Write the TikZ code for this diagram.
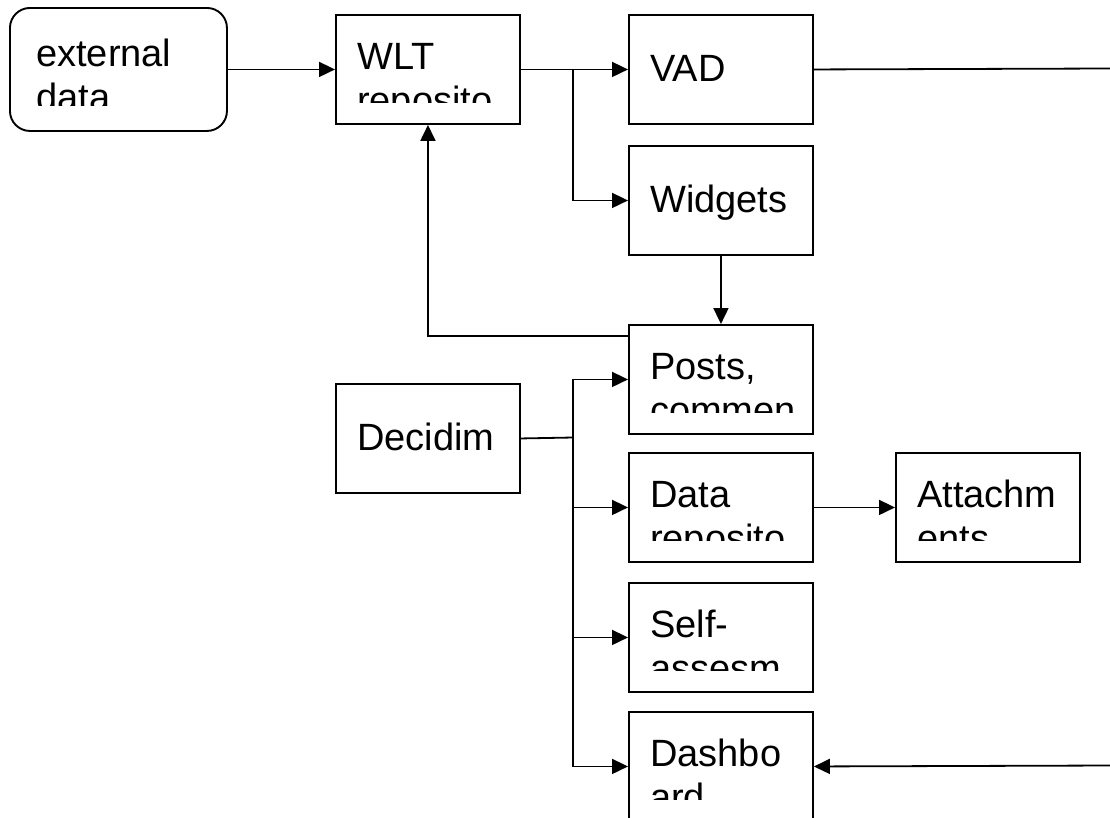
\documentclass[tikz,border=0pt]{standalone}
\usepackage{fontspec}
\setmainfont{Liberation Sans}
\usetikzlibrary{arrows.meta,calc}
\tikzset{
  box/.style={draw=black, line width=1.9pt, rectangle, minimum width=184pt, minimum height=109pt, inner sep=0pt, anchor=north west},
  rbox/.style={draw=black, line width=1.9pt, rectangle, rounded corners=20pt, minimum width=217pt, minimum height=123pt, inner sep=0pt, anchor=north west},
  txt/.style={inner sep=0pt, anchor=base west, font=\fontsize{38}{43.6}\selectfont},
  conn/.style={draw=black, line width=1.8pt},
  arr/.style={conn, -{Triangle[length=16pt,width=15pt]}}
}
\newcommand{\twoline}[3]{%
  \begin{scope}
    \clip (#1.north west) rectangle ($(#1.north west)+(184,88.5)$);
    \node[txt] (#1-a) at ($(#1.north west)+(22,55.5)$) {#2};
    \node[txt] (#1-b) at ($(#1.north west)+(22,99)$) {#3};
  \end{scope}}
\newcommand{\oneline}[2]{%
  \node[txt] (#1-a) at ($(#1.north west)+(22,67.5)$) {#2};}
\begin{document}
\begin{tikzpicture}[x=1pt,y=-1pt]
\useasboundingbox (0,0) rectangle (1110,817);
% boxes
\node[rbox] (ext) at (9,7) {};
\node[box] (wlt) at (335,14) {};
\node[box] (vad) at (628,14) {};
\node[box] (wid) at (628,145) {};
\node[box] (posts) at (628,324) {};
\node[box] (dec) at (335,383) {};
\node[box] (data) at (628,452) {};
\node[box] (att) at (895,452) {};
\node[box] (self) at (628,582) {};
\node[box] (dash) at (628,711) {};
% texts
\begin{scope}
  \clip (9,7) rectangle (226,105);
  \node[txt] (ext-a) at (36,66.5) {external};
  \node[txt] (ext-b) at (36,110) {data};
\end{scope}
\twoline{wlt}{WLT}{reposito}
\oneline{vad}{VAD}
\oneline{wid}{Widgets}
\twoline{posts}{Posts,}{commen}
\oneline{dec}{Decidim}
\twoline{data}{Data}{reposito}
\twoline{att}{Attachm}{ents}
\twoline{self}{Self-}{assesm}
\twoline{dash}{Dashbo}{ard}
% connectors
\coordinate (vadout) at (1110,68.5);
\coordinate (dashin) at (1110,765.5);
\coordinate (b1) at (573,68.5);
\coordinate (b2) at (573,437.5);
\coordinate (fb) at ($(posts.north west)+(0,12)$);
\draw[arr] (ext.east) -- (wlt.west);
\draw[arr] (wlt.east) -- (vad.west);
\draw[arr] (b1) |- (wid.west);
\draw[conn] (vad.east) -- (vadout);
\draw[arr] (wid.south) -- (posts.north);
\draw[arr] (fb) -| (wlt.south);
\draw[conn] (dec.east) -- (b2);
\draw[arr] (b2) |- (posts.west);
\draw[arr] (b2) |- (data.west);
\draw[arr] (b2) |- (self.west);
\draw[arr] (b2) |- (dash.west);
\draw[arr] (data.east) -- (att.west);
\draw[arr] (dashin) -- (dash.east);
\end{tikzpicture}
\end{document}
